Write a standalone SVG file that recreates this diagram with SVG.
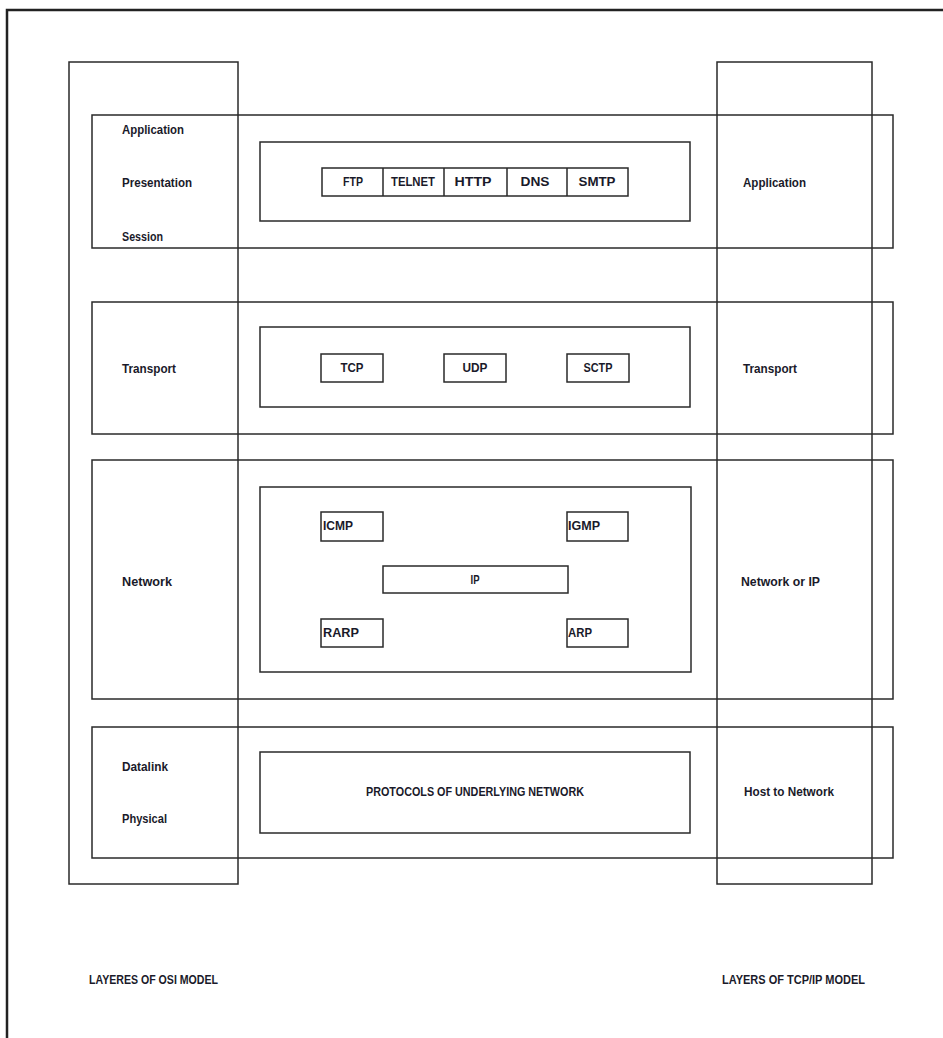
<svg xmlns="http://www.w3.org/2000/svg" width="943" height="1038" viewBox="0 0 943 1038">
<style>
rect{fill:none;stroke:#2a2a2a;stroke-width:1.5}
.frame{fill:none;stroke:#222;stroke-width:2.5}
text{font-family:"Liberation Sans",Arial,sans-serif;font-weight:bold;font-size:12.5px;fill:#1a1a2a;dominant-baseline:central}
.c{text-anchor:middle}
</style>
<rect width="943" height="1038" fill="#fff" style="fill:#fff;stroke:none"/>
<path class="frame" d="M7 1038 V10 H943"/>
<g id="osi-column"><rect x="69" y="62" width="169" height="822"/></g>
<g id="tcpip-column"><rect x="717" y="62" width="155" height="822"/></g>
<g id="band-application">
<rect x="92" y="115" width="801" height="133"/>
<text x="122" y="130" textLength="62" lengthAdjust="spacingAndGlyphs">Application</text>
<text x="122" y="183" textLength="70" lengthAdjust="spacingAndGlyphs">Presentation</text>
<text x="122" y="237" textLength="41" lengthAdjust="spacingAndGlyphs">Session</text>
<text x="743" y="183" textLength="63" lengthAdjust="spacingAndGlyphs">Application</text>
<rect x="260" y="142" width="430" height="79"/>
</g>
<g id="app-protocols">
<rect x="322" y="168" width="306" height="28"/>
<path d="M383 168 V196 M444 168 V196 M507 168 V196 M567 168 V196" fill="none" stroke="#2a2a2a" stroke-width="1.5"/>
<text class="c" x="353" y="182" textLength="20" lengthAdjust="spacingAndGlyphs">FTP</text>
<text class="c" x="413" y="182" textLength="44" lengthAdjust="spacingAndGlyphs">TELNET</text>
<text class="c" x="473" y="182" textLength="37" lengthAdjust="spacingAndGlyphs">HTTP</text>
<text class="c" x="535" y="182" textLength="29" lengthAdjust="spacingAndGlyphs">DNS</text>
<text class="c" x="597" y="182" textLength="37" lengthAdjust="spacingAndGlyphs">SMTP</text>
</g>
<g id="band-transport">
<rect x="92" y="302" width="801" height="132"/>
<text x="122" y="369" textLength="54" lengthAdjust="spacingAndGlyphs">Transport</text>
<text x="743" y="369" textLength="54" lengthAdjust="spacingAndGlyphs">Transport</text>
<rect x="260" y="327" width="430" height="80"/>
</g>
<g id="tcp"><rect x="321" y="354" width="62" height="28"/><text class="c" x="352" y="368" textLength="23" lengthAdjust="spacingAndGlyphs">TCP</text></g>
<g id="udp"><rect x="444" y="354" width="62" height="28"/><text class="c" x="475" y="368" textLength="25" lengthAdjust="spacingAndGlyphs">UDP</text></g>
<g id="sctp"><rect x="567" y="354" width="62" height="28"/><text class="c" x="598" y="368" textLength="29" lengthAdjust="spacingAndGlyphs">SCTP</text></g>
<g id="band-network">
<rect x="92" y="460" width="801" height="239"/>
<text x="122" y="582" textLength="50" lengthAdjust="spacingAndGlyphs">Network</text>
<text x="741" y="582" textLength="79" lengthAdjust="spacingAndGlyphs">Network or IP</text>
<rect x="260" y="487" width="431" height="185"/>
</g>
<g id="icmp"><rect x="321" y="512" width="62" height="29"/><text x="323" y="526" textLength="30" lengthAdjust="spacingAndGlyphs">ICMP</text></g>
<g id="igmp"><rect x="567" y="512" width="61" height="29"/><text x="568" y="526" textLength="32" lengthAdjust="spacingAndGlyphs">IGMP</text></g>
<g id="ip"><rect x="383" y="566" width="185" height="27"/><text class="c" x="475" y="580" textLength="9" lengthAdjust="spacingAndGlyphs">IP</text></g>
<g id="rarp"><rect x="321" y="619" width="62" height="28"/><text x="323" y="633" textLength="36" lengthAdjust="spacingAndGlyphs">RARP</text></g>
<g id="arp"><rect x="567" y="619" width="61" height="28"/><text x="568" y="633" textLength="24" lengthAdjust="spacingAndGlyphs">ARP</text></g>
<g id="band-host">
<rect x="92" y="727" width="801" height="131"/>
<text x="122" y="767" textLength="46" lengthAdjust="spacingAndGlyphs">Datalink</text>
<text x="122" y="819" textLength="45" lengthAdjust="spacingAndGlyphs">Physical</text>
<text x="744" y="792" textLength="90" lengthAdjust="spacingAndGlyphs">Host to Network</text>
<rect x="260" y="752" width="430" height="81"/>
<text class="c" x="475" y="792" textLength="218" lengthAdjust="spacingAndGlyphs">PROTOCOLS OF UNDERLYING NETWORK</text>
</g>
<g id="captions">
<text x="89" y="980" textLength="129" lengthAdjust="spacingAndGlyphs">LAYERES OF OSI MODEL</text>
<text x="722" y="980" textLength="143" lengthAdjust="spacingAndGlyphs">LAYERS OF TCP/IP MODEL</text>
</g>
<g id="connectors"></g>
</svg>
